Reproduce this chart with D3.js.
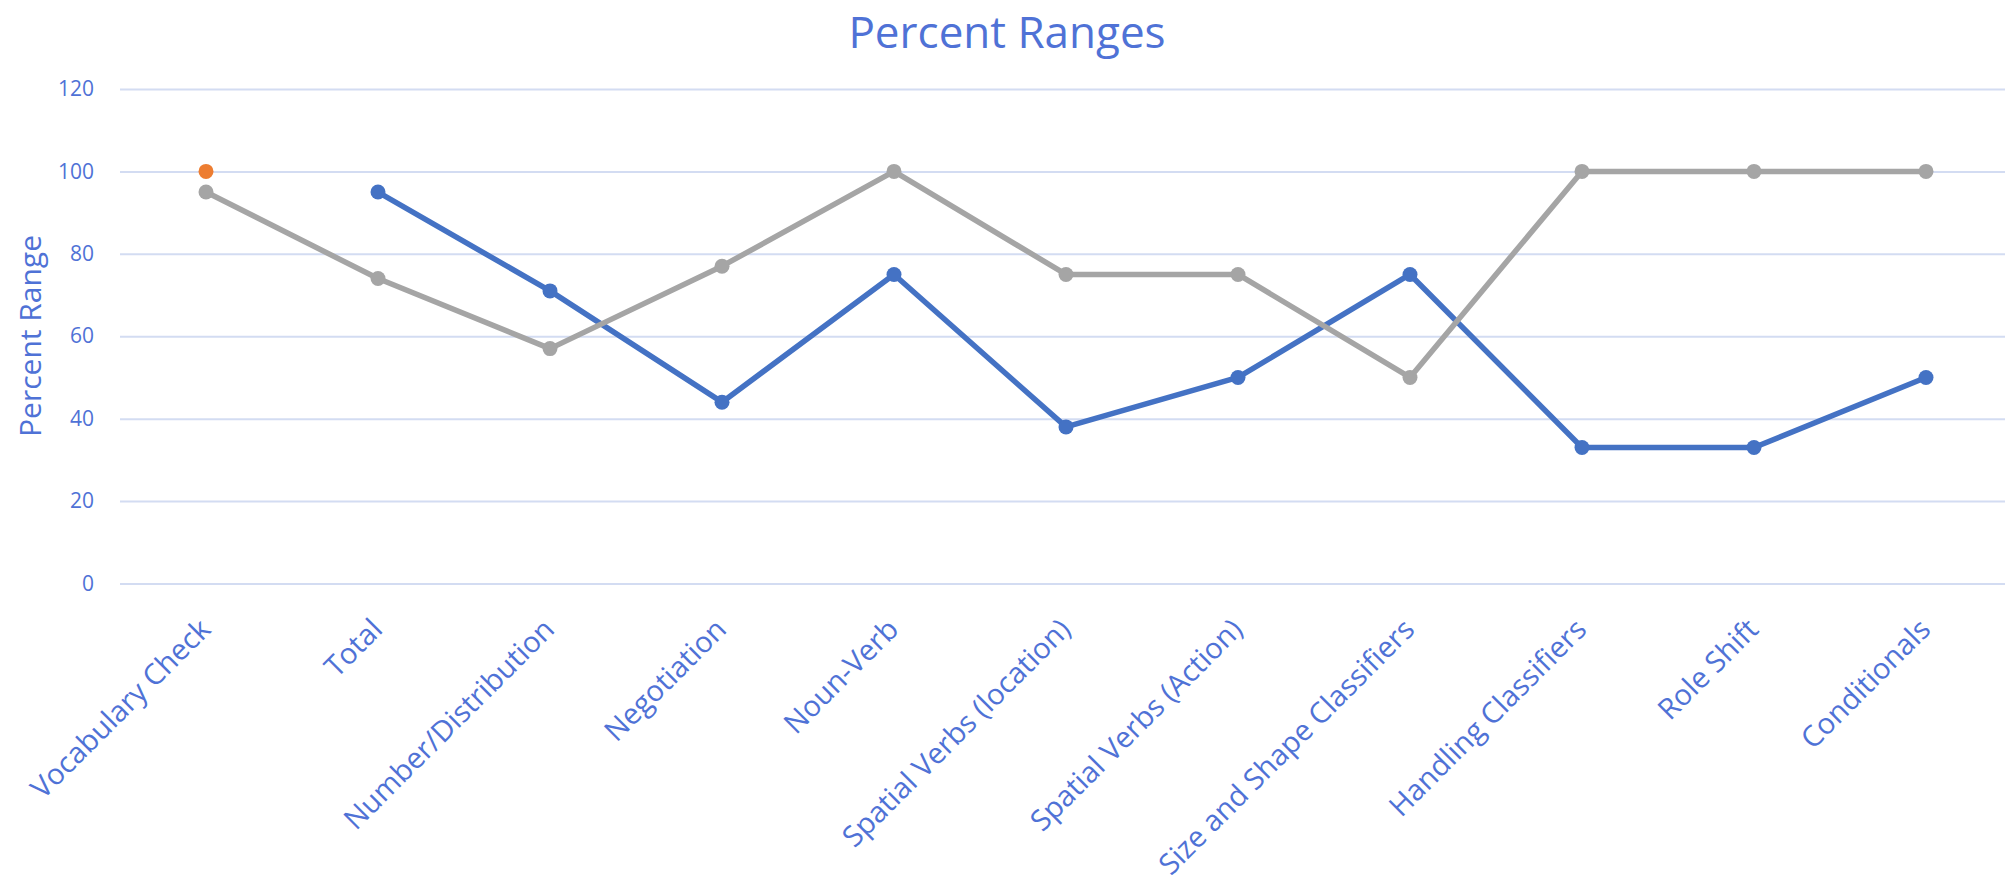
<!DOCTYPE html>
<html>
<head>
<meta charset="utf-8">
<script src="https://cdn.jsdelivr.net/npm/d3@7"></script>
<style>
  body { margin: 0; background: #ffffff; }
  svg { display: block; }
</style>
</head>
<body>
<script>
var categories = ["Vocabulary Check", "Total", "Number/Distribution", "Negotiation", "Noun-Verb",
    "Spatial Verbs (location)", "Spatial Verbs (Action)", "Size and Shape Classifiers",
    "Handling Classifiers", "Role Shift", "Conditionals"];
var blueValues = [null, 95, 71, 44, 75, 38, 50, 75, 33, 33, 50];
var orangeValues = [100, null, null, null, null, null, null, null, null, null, null];
var grayValues = [95, 74, 57, 77, 100, 75, 75, 50, 100, 100, 100];
var yTicks = [0, 20, 40, 60, 80, 100, 120];

var width = 2005, height = 893;
var textColor = "#4f72d6";
var font = "'Open Sans', 'Noto Sans', sans-serif";

var svg = d3.select("body").append("svg")
    .attr("width", width)
    .attr("height", height);

var x = d3.scalePoint()
    .domain(categories)
    .range([120, 2012])
    .padding(0.5);

var y = d3.scaleLinear()
    .domain([0, 120])
    .range([583.5, 89]);

// gridlines + y tick labels
var yAxis = svg.append("g")
    .attr("transform", "translate(120,0)")
    .call(d3.axisLeft(y).tickValues(yTicks).tickSize(-(width - 120)).tickPadding(26));
yAxis.select(".domain").remove();
yAxis.selectAll(".tick line")
    .attr("stroke", "#d3dcf2")
    .attr("stroke-width", 2);
yAxis.selectAll(".tick text")
    .attr("fill", textColor)
    .style("font-family", font)
    .style("font-size", "21px");

// x labels, rotated
svg.append("g").selectAll("text")
    .data(categories)
    .join("text")
    .attr("transform", function (d) {
        return "translate(" + (x(d) - 1) + "," + 624 + ") rotate(-45)";
    })
    .attr("text-anchor", "end")
    .attr("dy", "0.35em")
    .attr("fill", textColor)
    .style("font-family", font)
    .style("font-size", "29px")
    .text(function (d) { return d; });

// title
svg.append("text")
    .attr("x", 1007)
    .attr("y", 48)
    .attr("text-anchor", "middle")
    .attr("fill", textColor)
    .style("font-family", font)
    .style("font-size", "44px")
    .text("Percent Ranges");

// y axis title
svg.append("text")
    .attr("transform", "translate(30,336) rotate(-90)")
    .attr("text-anchor", "middle")
    .attr("dy", "0.35em")
    .attr("fill", textColor)
    .style("font-family", font)
    .style("font-size", "30px")
    .text("Percent Range");

var series = [
    { values: blueValues, color: "#4472c4" },
    { values: orangeValues, color: "#ed7d31" },
    { values: grayValues, color: "#a5a5a5" }
];

var line = d3.line()
    .defined(function (d) { return d.v !== null; })
    .x(function (d) { return x(d.c); })
    .y(function (d) { return y(d.v); });

series.forEach(function (s) {
    var pts = categories.map(function (c, i) { return { c: c, v: s.values[i] }; });

    svg.append("path")
        .datum(pts)
        .attr("fill", "none")
        .attr("stroke", s.color)
        .attr("stroke-width", 5.5)
        .attr("stroke-linejoin", "round")
        .attr("d", line);

    svg.append("g").selectAll("circle")
        .data(pts.filter(function (d) { return d.v !== null; }))
        .join("circle")
        .attr("cx", function (d) { return x(d.c); })
        .attr("cy", function (d) { return y(d.v); })
        .attr("r", 7.5)
        .attr("fill", s.color);
});
</script>
</body>
</html>
